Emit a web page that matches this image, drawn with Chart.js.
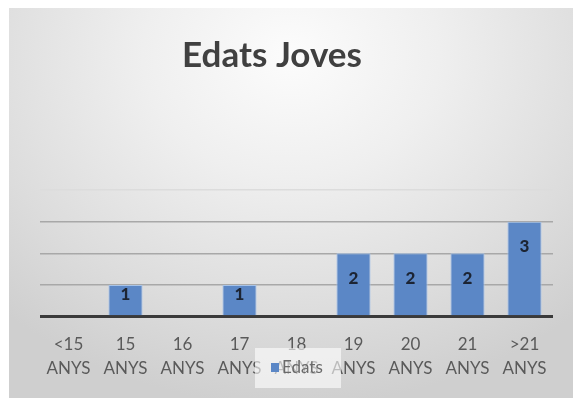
<!DOCTYPE html>
<html>
<head>
<meta charset="utf-8">
<script src="https://cdn.jsdelivr.net/npm/chart.js@4"></script>
<style>
html,body{margin:0;padding:0;background:#fff;}
#bg{position:absolute;left:9px;top:8px;width:564px;height:390px;
background:radial-gradient(ellipse 75% 90% at 50% 12%, #fcfcfc 0%, #efefef 35%, #dcdcdc 75%, #cfcfcf 100%);}
#c{position:absolute;left:0;top:0;}
</style>
</head>
<body>
<div id="bg"></div>
<canvas id="c" width="573" height="398"></canvas>
<script>
const categories = [["<15","ANYS"],["15","ANYS"],["16","ANYS"],["17","ANYS"],["18","ANYS"],["19","ANYS"],["20","ANYS"],["21","ANYS"],[">21","ANYS"]];
const edats = [null, 1, null, 1, null, 2, 2, 2, 3];
const seriesName = "Edats";
const chartTitle = "Edats Joves";
const yTicks = [0, 1, 2, 3, 4];

const barColor = "#5b87c6";
const FONT = "Lato, 'Open Sans', sans-serif";

const titlePlugin = {
  id: "customTitle",
  afterDraw(chart) {
    const ctx = chart.ctx;
    ctx.save();
    ctx.font = "bold 35px " + FONT;
    ctx.fillStyle = "#404040";
    ctx.textAlign = "center";
    ctx.textBaseline = "middle";
    ctx.fillText(chartTitle, 272, 56);
    ctx.restore();
  }
};

const labelPlugin = {
  id: "barLabels",
  afterDatasetsDraw(chart) {
    const ctx = chart.ctx;
    const meta = chart.getDatasetMeta(0);
    ctx.save();
    ctx.font = "900 17px " + FONT;
    ctx.fillStyle = "#1c2433";
    ctx.textAlign = "center";
    ctx.textBaseline = "middle";
    meta.data.forEach((bar, i) => {
      const v = chart.data.datasets[0].data[i];
      if (v == null) return;
      const h = bar.base - bar.y;
      const off = h < 40 ? h * 0.3 : 25;
      ctx.fillText(String(v), bar.x, bar.y + off);
    });
    ctx.restore();
  }
};

const legendPlugin = {
  id: "overlayLegend",
  afterDraw(chart) {
    const ctx = chart.ctx;
    ctx.save();
    ctx.fillStyle = "rgba(255,255,255,0.6)";
    ctx.fillRect(255, 348, 86, 40);
    ctx.fillStyle = barColor;
    ctx.fillRect(271, 363, 8, 9);
    ctx.font = "17px " + FONT;
    ctx.fillStyle = "#6a6a6a";
    ctx.textAlign = "left";
    ctx.textBaseline = "middle";
    ctx.fillText(seriesName, 282, 368);
    ctx.restore();
  }
};

new Chart(document.getElementById("c"), {
  type: "bar",
  data: {
    labels: categories,
    datasets: [{
      label: seriesName,
      data: edats,
      backgroundColor: barColor,
      borderColor: "#a7c3e8",
      borderWidth: 1,
      barPercentage: 0.6,
      categoryPercentage: 1.0
    }]
  },
  options: {
    responsive: false,
    animation: false,
    layout: { padding: { left: 40, right: 20, top: 190, bottom: 2 } },
    plugins: {
      legend: { display: false },
      tooltip: { enabled: false },
      title: { display: false }
    },
    scales: {
      x: {
        grid: { display: false, drawTicks: false },
        border: { display: false },
        ticks: {
          color: "#5a5a5a",
          font: { family: FONT, size: 17, lineHeight: 1.45 },
          padding: 15,
          maxRotation: 0,
          autoSkip: false
        }
      },
      y: {
        min: yTicks[0],
        max: yTicks[yTicks.length - 1],
        afterBuildTicks(axis) { axis.ticks = yTicks.map(v => ({ value: v })); },
        ticks: { display: false },
        border: { display: false },
        grid: {
          drawTicks: false,
          color: ctx => ctx.tick.value === 0 ? "#3a3a3a" : (ctx.tick.value === 4 ? "#dcdcdc" : "#a8a8a8"),
          lineWidth: ctx => ctx.tick.value === 0 ? 3 : 1.5
        }
      }
    }
  },
  plugins: [labelPlugin, legendPlugin, titlePlugin]
});
</script>
</body>
</html>
